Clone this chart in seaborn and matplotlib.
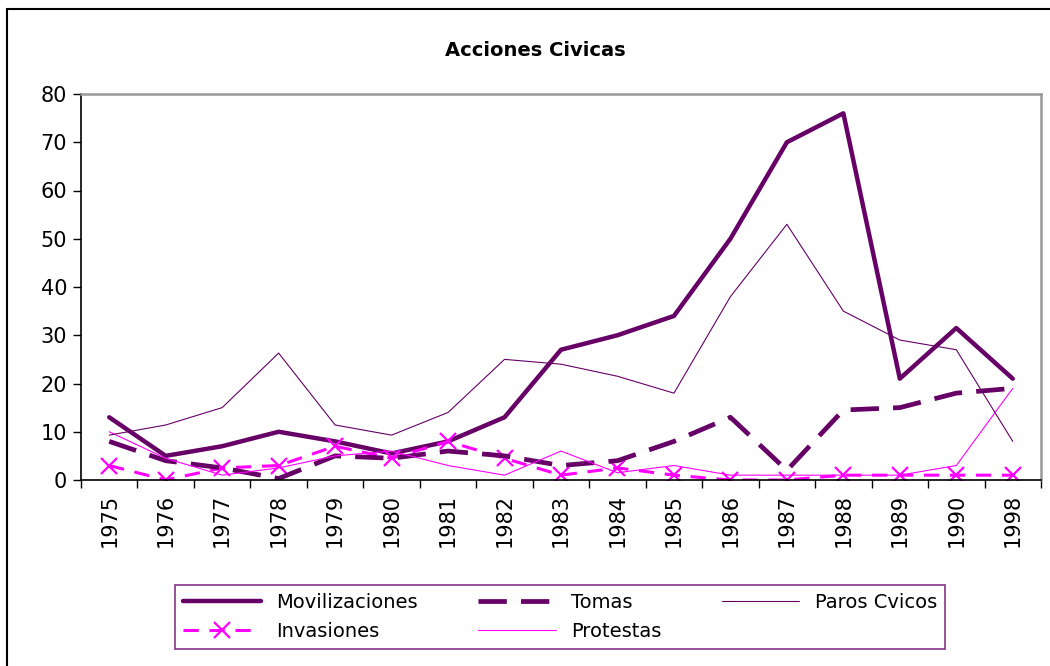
import numpy as np
import pandas as pd
import matplotlib.pyplot as plt
import seaborn as sns
from matplotlib.patches import Rectangle

# Datos
years = ['1975', '1976', '1977', '1978', '1979', '1980', '1981', '1982', '1983',
         '1984', '1985', '1986', '1987', '1988', '1989', '1990', '1998']
movilizaciones = [13, 5, 7, 10, 8, 5.5, 8, 13, 27, 30, 34, 50, 70, 76, 21, 31.5, 21]
tomas = [8, 4, 2.5, 0.3, 5, 4.5, 6, 5, 3, 4, 8, 13, 2, 14.5, 15, 18, 19]
paros = [9.3, 11.4, 15, 26.3, 11.4, 9.3, 14, 25, 24, 21.5, 18, 38, 53, 35, 29, 27, 8]
invasiones = [3, 0, 2.5, 3, 7, 4.5, 8, 4.5, 1, 2.5, 1, 0, 0, 1, 1, 1, 1]
protestas = [10, 4.5, 1, 2.5, 5, 6, 3, 1, 6, 1.5, 3, 1, 1, 1, 1, 3, 19]

df = pd.DataFrame({'pos': np.arange(len(years)),
                   'Movilizaciones': movilizaciones, 'Tomas': tomas,
                   'Paros Cvicos': paros, 'Invasiones': invasiones,
                   'Protestas': protestas})

sns.set_style('white')
plt.rcParams['font.family'] = ['DejaVu Sans']
plt.rcParams['text.color'] = 'black'
plt.rcParams['xtick.color'] = 'black'
plt.rcParams['ytick.color'] = 'black'

purple = '#660066'
magenta = '#FF00FF'

fig = plt.figure(figsize=(10.5, 6.66), dpi=100)
ax = fig.add_axes([81 / 1050, 1 - 480 / 666, 960 / 1050, 386 / 666])

sns.lineplot(data=df, x='pos', y='Movilizaciones', ax=ax, color=purple, lw=3.2,
             label='Movilizaciones')
sns.lineplot(data=df, x='pos', y='Invasiones', ax=ax, color=magenta, lw=2.2,
             marker='x', markersize=12, markeredgewidth=1.6,
             markeredgecolor=magenta, label='Invasiones')
ax.lines[-1].set_dashes([5, 3.5])
sns.lineplot(data=df, x='pos', y='Tomas', ax=ax, color=purple, lw=3.4,
             label='Tomas')
ax.lines[-1].set_dashes([6, 3])
sns.lineplot(data=df, x='pos', y='Protestas', ax=ax, color=magenta, lw=0.8,
             label='Protestas')
sns.lineplot(data=df, x='pos', y='Paros Cvicos', ax=ax, color=purple, lw=0.8,
             label='Paros Cvicos')

ax.get_legend().remove()

# Ejes
ax.set_xlim(-0.5, len(years) - 0.5)
ax.set_ylim(0, 80)
ax.set_yticks(range(0, 81, 10))
ax.set_xticks(np.arange(-0.5, len(years), 1))
ax.set_xticklabels([])
ax.set_xticks(np.arange(len(years)), minor=True)
ax.set_xticklabels(years, minor=True, rotation=90)
ax.tick_params(axis='x', which='major', direction='out', length=6, width=1, color='black', bottom=True)
ax.tick_params(axis='x', which='minor', length=0, labelsize=15, pad=10)
ax.tick_params(axis='y', direction='out', length=6, width=1, color='black', left=True,
               labelsize=15, pad=4)
ax.set_xlabel('')
ax.set_ylabel('')
for s in ['left', 'bottom']:
    ax.spines[s].set_color('black')
    ax.spines[s].set_linewidth(1.2)
for s in ['top', 'right']:
    ax.spines[s].set_color('#999999')
    ax.spines[s].set_linewidth(1.8)

fig.text(535 / 1050, 1 - 50 / 666, 'Acciones Civicas', ha='center', va='center',
         fontsize=14, fontweight='bold')

# Leyenda
handles, labels = ax.get_legend_handles_labels()
order = ['Movilizaciones', 'Invasiones', 'Tomas', 'Protestas', 'Paros Cvicos']
hmap = dict(zip(labels, handles))
leg = fig.legend([hmap[k] for k in order], order, loc='center',
                 bbox_to_anchor=(175 / 1050, 1 - 658 / 666, 770 / 1050, 82 / 666),
                 mode='expand', ncol=3, fontsize=14, frameon=True, fancybox=False,
                 handlelength=4, borderaxespad=0, labelspacing=0.5)
leg.get_frame().set_edgecolor('#660066')
leg.get_frame().set_linewidth(1.2)

# Marco exterior
fig.patches.append(Rectangle((7 / 1050, -0.05), 1.1, 1 - 9 / 666 + 0.05,
                             transform=fig.transFigure, fill=False,
                             edgecolor='black', lw=1.5))

fig.savefig('out.png', dpi=100)
